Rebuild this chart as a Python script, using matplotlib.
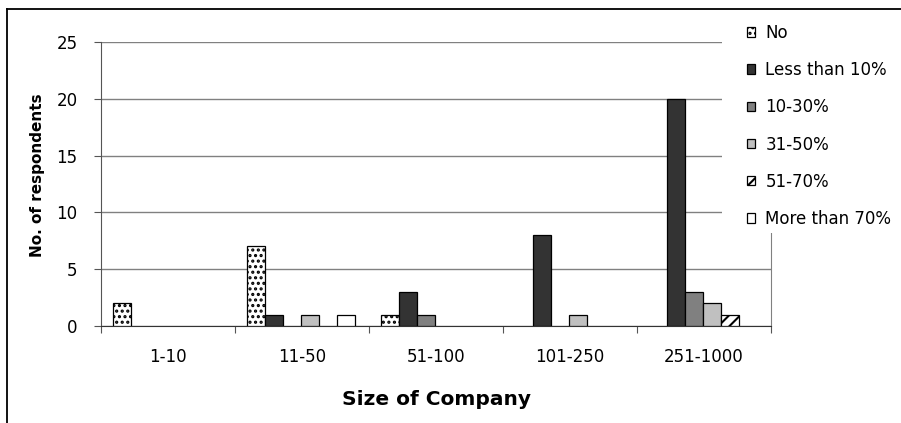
import matplotlib
matplotlib.use("Agg")
import matplotlib.pyplot as plt
import numpy as np
from matplotlib.lines import Line2D
from matplotlib.patches import Rectangle, Patch

plt.rcParams['font.family'] = ['DejaVu Sans']
plt.rcParams['hatch.color'] = '#2a2a2a'
plt.rcParams['hatch.linewidth'] = 1.5

sizes = ["1-10", "11-50", "51-100", "101-250", "251-1000"]
series = ["No", "Less than 10%", "10-30%", "31-50%", "51-70%", "More than 70%"]
no_share = [2, 7, 1, 0, 0]
less_10 = [0, 1, 3, 8, 20]
pct_10_30 = [0, 0, 1, 0, 3]
pct_31_50 = [0, 1, 0, 1, 2]
pct_51_70 = [0, 0, 0, 0, 1]
more_70 = [0, 1, 0, 0, 0]
values = [no_share, less_10, pct_10_30, pct_31_50, pct_51_70, more_70]

faces = ['white', '#333333', '#808080', '#c0c0c0', 'white', 'white']
hatches = ['...', None, None, None, '///', None]

fig = plt.figure(figsize=(9.01, 4.23), dpi=100)
ax = fig.add_axes([101/901, 1 - 326/423, 670/901, 284/423])

# outer chart frame (open at right and bottom)
fig.add_artist(Line2D([7/901, 7/901], [1 - 9/423, -0.1], transform=fig.transFigure,
                      color='black', lw=1.3))
fig.add_artist(Line2D([7/901, 1.1], [1 - 9/423, 1 - 9/423], transform=fig.transFigure,
                      color='black', lw=1.3))

x = np.arange(len(sizes))
bw = 0.134
offsets = (np.arange(len(series)) - 2.5) * bw - 0.007
handles = []
for i, (name, vals) in enumerate(zip(series, values)):
    bars = ax.bar(x + offsets[i], vals, width=bw, color=faces[i], edgecolor='black',
                  linewidth=0.9, hatch=hatches[i], zorder=3)
    # empty categories leave no outline on the baseline
    for patch, v in zip(bars.patches, vals):
        if v == 0:
            patch.set_visible(False)
    handles.append(Patch(facecolor=faces[i], edgecolor='black', linewidth=0.9,
                         hatch=hatches[i], label=name))

ax.set_xlim(-0.5, len(sizes) - 0.5)
ax.set_ylim(0, 25)
ax.set_yticks(range(0, 26, 5))
ax.yaxis.grid(True, color='#808080', lw=1.0, zorder=0)
ax.set_axisbelow(True)

ax.set_xticks(np.arange(len(sizes) + 1) - 0.5, minor=False)
ax.set_xticklabels([])
ax.set_xticks(x, minor=True)
ax.set_xticklabels(sizes, minor=True, fontsize=12)
ax.tick_params(axis='x', which='major', length=5, direction='out', color='#555555')
ax.tick_params(axis='x', which='minor', length=0, pad=16)
ax.tick_params(axis='y', length=5, direction='out', labelsize=12, pad=12, color='#555555')

ax.spines['top'].set_visible(False)
ax.spines['right'].set_color('#808080')
ax.spines['left'].set_color('#555555')
ax.spines['bottom'].set_color('#333333')

ax.set_xlabel("Size of Company", fontsize=14.5, fontweight='bold', labelpad=17)
ax.set_ylabel("No. of respondents", fontsize=11, fontweight='bold')
ax.yaxis.set_label_coords(-56/670, 0.532)

# white area behind the legend, hiding the grid's right end
fig.add_artist(Rectangle((722/901, 1 - 233/423), 179/901, (233 - 12)/423,
                         transform=fig.transFigure, facecolor='white',
                         edgecolor='none', zorder=5))

leg = fig.legend(handles=handles, labels=series, loc='upper left',
                 bbox_to_anchor=(742/901, 1 - 19/423), frameon=False, fontsize=12,
                 handlelength=0.5, handleheight=0.5, handletextpad=0.6,
                 labelspacing=1.15, borderpad=0.3, borderaxespad=0)
leg.set_zorder(10)

fig.savefig("out.png", dpi=100)
